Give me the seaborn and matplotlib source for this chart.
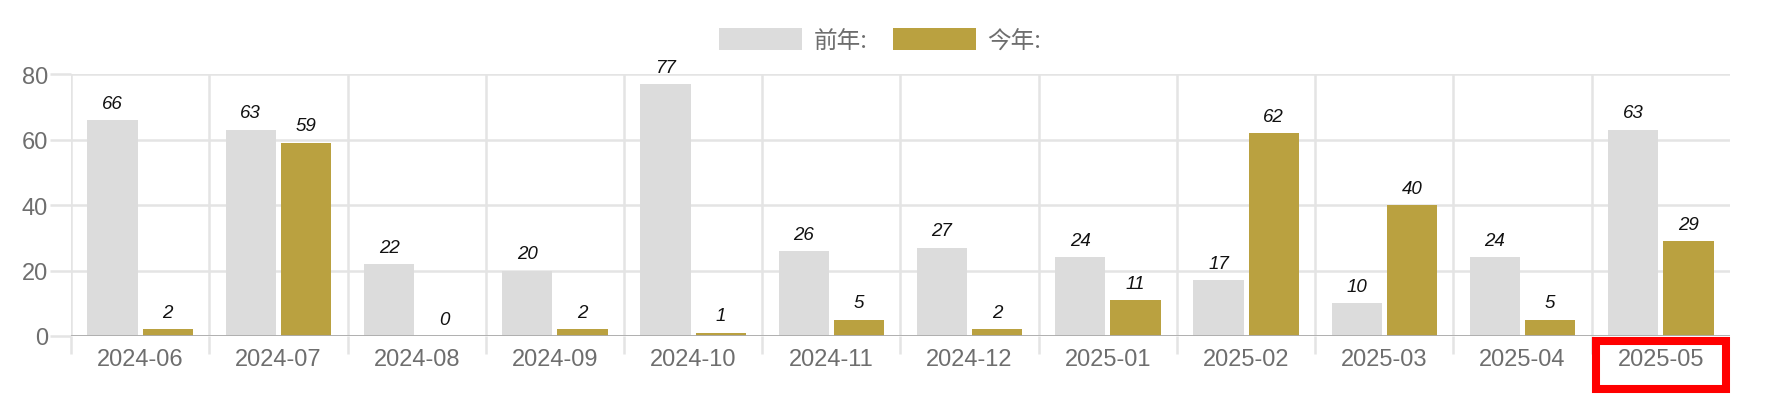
import pandas as pd
import matplotlib.pyplot as plt
import seaborn as sns
from matplotlib.patches import Rectangle

# Values
months = ["2024-06", "2024-07", "2024-08", "2024-09", "2024-10", "2024-11",
          "2024-12", "2025-01", "2025-02", "2025-03", "2025-04", "2025-05"]
last_year = [66, 63, 22, 20, 77, 26, 27, 24, 17, 10, 24, 63]
this_year = [2, 59, 0, 2, 1, 5, 2, 11, 62, 40, 5, 29]
series_names = ["前年:", "今年:"]
y_ticks = [0, 20, 40, 60, 80]

gray = "#DCDCDC"
gold = "#BAA140"
grid_color = "#E4E4E4"
text_gray = "#6E6E6E"

# Long format table for seaborn
df = pd.DataFrame({
    "month": months * 2,
    "count": last_year + this_year,
    "series": [series_names[0]] * len(months) + [series_names[1]] * len(months),
})

sns.set_style("white")
plt.rcParams["font.family"] = ["Liberation Sans", "DejaVu Sans"]

fig = plt.figure(figsize=(17.89, 4.02), dpi=100)
ax = fig.add_axes([0.0397, 0.1617, 0.967 - 0.0397, 0.8134 - 0.1617])

sns.barplot(data=df, x="month", y="count", hue="series", order=months,
            hue_order=series_names, palette=[gray, gold], saturation=1,
            width=0.8, gap=0.09, linewidth=0, ax=ax, zorder=3)

# value labels above every bar
for container in ax.containers:
    ax.bar_label(container, padding=6, fontsize=13.5, fontstyle="italic",
                 color="#111111", zorder=4)

ax.set_xlim(-0.5, len(months) - 0.5)
ax.set_ylim(0, 80)
ax.set_yticks(y_ticks)
ax.set_xlabel("")
ax.set_ylabel("")
for s in ax.spines.values():
    s.set_visible(False)

# grid: horizontal on y ticks, vertical on category boundaries
ax.set_xticks([i - 0.5 for i in range(len(months))], minor=True)
ax.yaxis.grid(True, color=grid_color, lw=1.8, zorder=0)
ax.xaxis.grid(True, which="minor", color=grid_color, lw=1.8, zorder=0)
ax.xaxis.grid(False, which="major")
ax.set_axisbelow(True)
ax.axhline(0, color="#ABABAB", lw=2, zorder=5)

ax.tick_params(axis="y", left=True, length=15, width=1.8, color=grid_color,
               pad=1.5, labelsize=17, labelcolor=text_gray)
ax.tick_params(axis="x", which="major", bottom=True, length=0, pad=9,
               labelsize=17, labelcolor=text_gray)
ax.tick_params(axis="x", which="minor", bottom=True, length=13, width=1.8,
               color=grid_color)

# legend centred above the plot
sns.move_legend(ax, "center", bbox_to_anchor=(0.492, 0.897),
                bbox_transform=fig.transFigure, ncol=2, frameon=False,
                title=None, handlelength=3.5, handleheight=1.05,
                handletextpad=0.5, columnspacing=1.1, borderpad=0,
                fontsize=17)
for t in ax.get_legend().get_texts():
    t.set_color(text_gray)
    t.set_family(["Noto Sans CJK SC", "DejaVu Sans"])

# red highlight box around the last month label
ax.add_patch(Rectangle((10.53, -0.202), 0.94, 0.183, fill=False,
                       edgecolor="#FF0000", lw=5.8,
                       transform=ax.get_xaxis_transform(), clip_on=False))

fig.savefig("out.png", dpi=100)
